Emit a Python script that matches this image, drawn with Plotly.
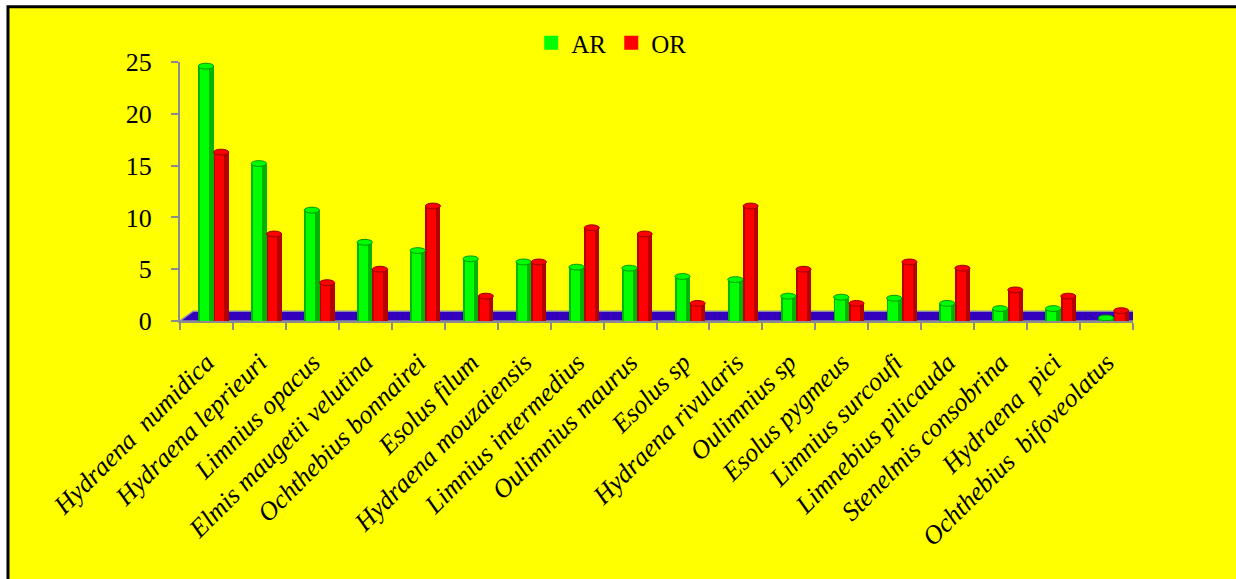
import plotly.graph_objects as go

# Beetle taxa and their relative abundance (%) in the two sampling zones
species = [
    "Hydraena  numidica", "Hydraena leprieuri", "Limnius opacus",
    "Elmis maugetii velutina", "Ochthebius bonnairei", "Esolus filum",
    "Hydraena mouzaiensis", "Limnius intermedius", "Oulimnius maurus",
    "Esolus sp", "Hydraena rivularis", "Oulimnius sp", "Esolus pygmeus",
    "Limnius surcoufi", "Limnebius pilicauda", "Stenelmis consobrina",
    "Hydraena  pici", "Ochthebius  bifoveolatus",
]
ar_values = [24.6, 15.2, 10.7, 7.6, 6.8, 6.0, 5.7, 5.2, 5.1, 4.3, 4.0,
             2.4, 2.3, 2.2, 1.7, 1.2, 1.2, 0.3]
or_values = [16.3, 8.4, 3.7, 5.0, 11.1, 2.4, 5.7, 9.0, 8.4, 1.7, 11.1,
             5.0, 1.7, 5.7, 5.1, 3.0, 2.4, 1.0]
y_ticks = [0, 5, 10, 15, 20, 25]

FONT = "Times New Roman, Liberation Serif, serif"

series = [
    ("AR", ar_values, "#00B400", "#00FF00", "#009A00", -0.155, 0.29),
    ("OR", or_values, "#B40000", "#FF0000", "#9A0000", 0.135, 0.285),
]

# chart frame and the coloured floor below the columns
shapes = [
    dict(type="rect", xref="paper", yref="paper", layer="below",
         x0=-0.1805, x1=1.2, y0=-1.2, y1=1.2131,
         fillcolor="#FFFF00", line=dict(color="#000000", width=3)),
    dict(type="path", xref="x", yref="y", layer="below",
         path="M -0.5,0 L 17.5,0 L 17.75,0.95 L -0.25,0.95 Z",
         fillcolor="#3300BB", line=dict(color="#8C8CA8", width=1.5)),
]

fig = go.Figure()
for name, vals, dark, bright, edge, off, w in series:
    # shaded outer column
    fig.add_trace(go.Bar(
        x=species, y=vals, name=name, offset=off, width=w,
        marker=dict(color=dark, line=dict(width=0)),
        showlegend=False, hoverinfo="skip",
    ))
    # bright core of the column
    fig.add_trace(go.Bar(
        x=species, y=vals, name=name, offset=off + w * 0.12, width=w * 0.6,
        marker=dict(color=bright, line=dict(width=0)),
        showlegend=False,
    ))
    # elliptical cap on top of each column
    for i, v in enumerate(vals):
        shapes.append(dict(
            type="circle", xref="x", yref="y", layer="above",
            x0=i + off, x1=i + off + w, y0=v - 0.28, y1=v + 0.28,
            fillcolor=bright, line=dict(color=edge, width=1),
        ))

# square legend keys
for name, _, _, bright, _, _, _ in series:
    fig.add_trace(go.Scatter(
        x=[None], y=[None], mode="markers", name=name,
        marker=dict(symbol="square", size=14, color=bright),
    ))

fig.update_layout(
    width=1236, height=579,
    margin=dict(l=180, r=103, t=62, b=258),
    paper_bgcolor="#FFFFFF", plot_bgcolor="rgba(0,0,0,0)",
    barmode="overlay", bargap=0,
    font=dict(family=FONT, color="#000000", size=24),
    shapes=shapes,
    legend=dict(
        orientation="h", x=0.453, xanchor="center", y=1.073, yanchor="middle",
        font=dict(family=FONT, size=25), bgcolor="rgba(0,0,0,0)",
        itemwidth=30, traceorder="normal",
    ),
    xaxis=dict(
        type="category", range=[-0.5, 17.5],
        showline=True, linecolor="#8C8C8C", linewidth=2,
        ticks="outside", tickson="boundaries", ticklen=7, tickwidth=2,
        tickcolor="#8C8C8C", tickangle=-45,
        tickfont=dict(family=FONT, size=26, style="italic"),
        showgrid=False, ticklabelstandoff=14,
    ),
    yaxis=dict(
        range=[0, 25], tickvals=y_ticks,
        showline=True, linecolor="#8C8C8C", linewidth=2,
        ticks="outside", ticklen=7, tickwidth=2, tickcolor="#8C8C8C",
        tickfont=dict(family=FONT, size=26),
        showgrid=False, zeroline=False, ticklabelstandoff=14,
    ),
)

fig.write_html("out.html")
